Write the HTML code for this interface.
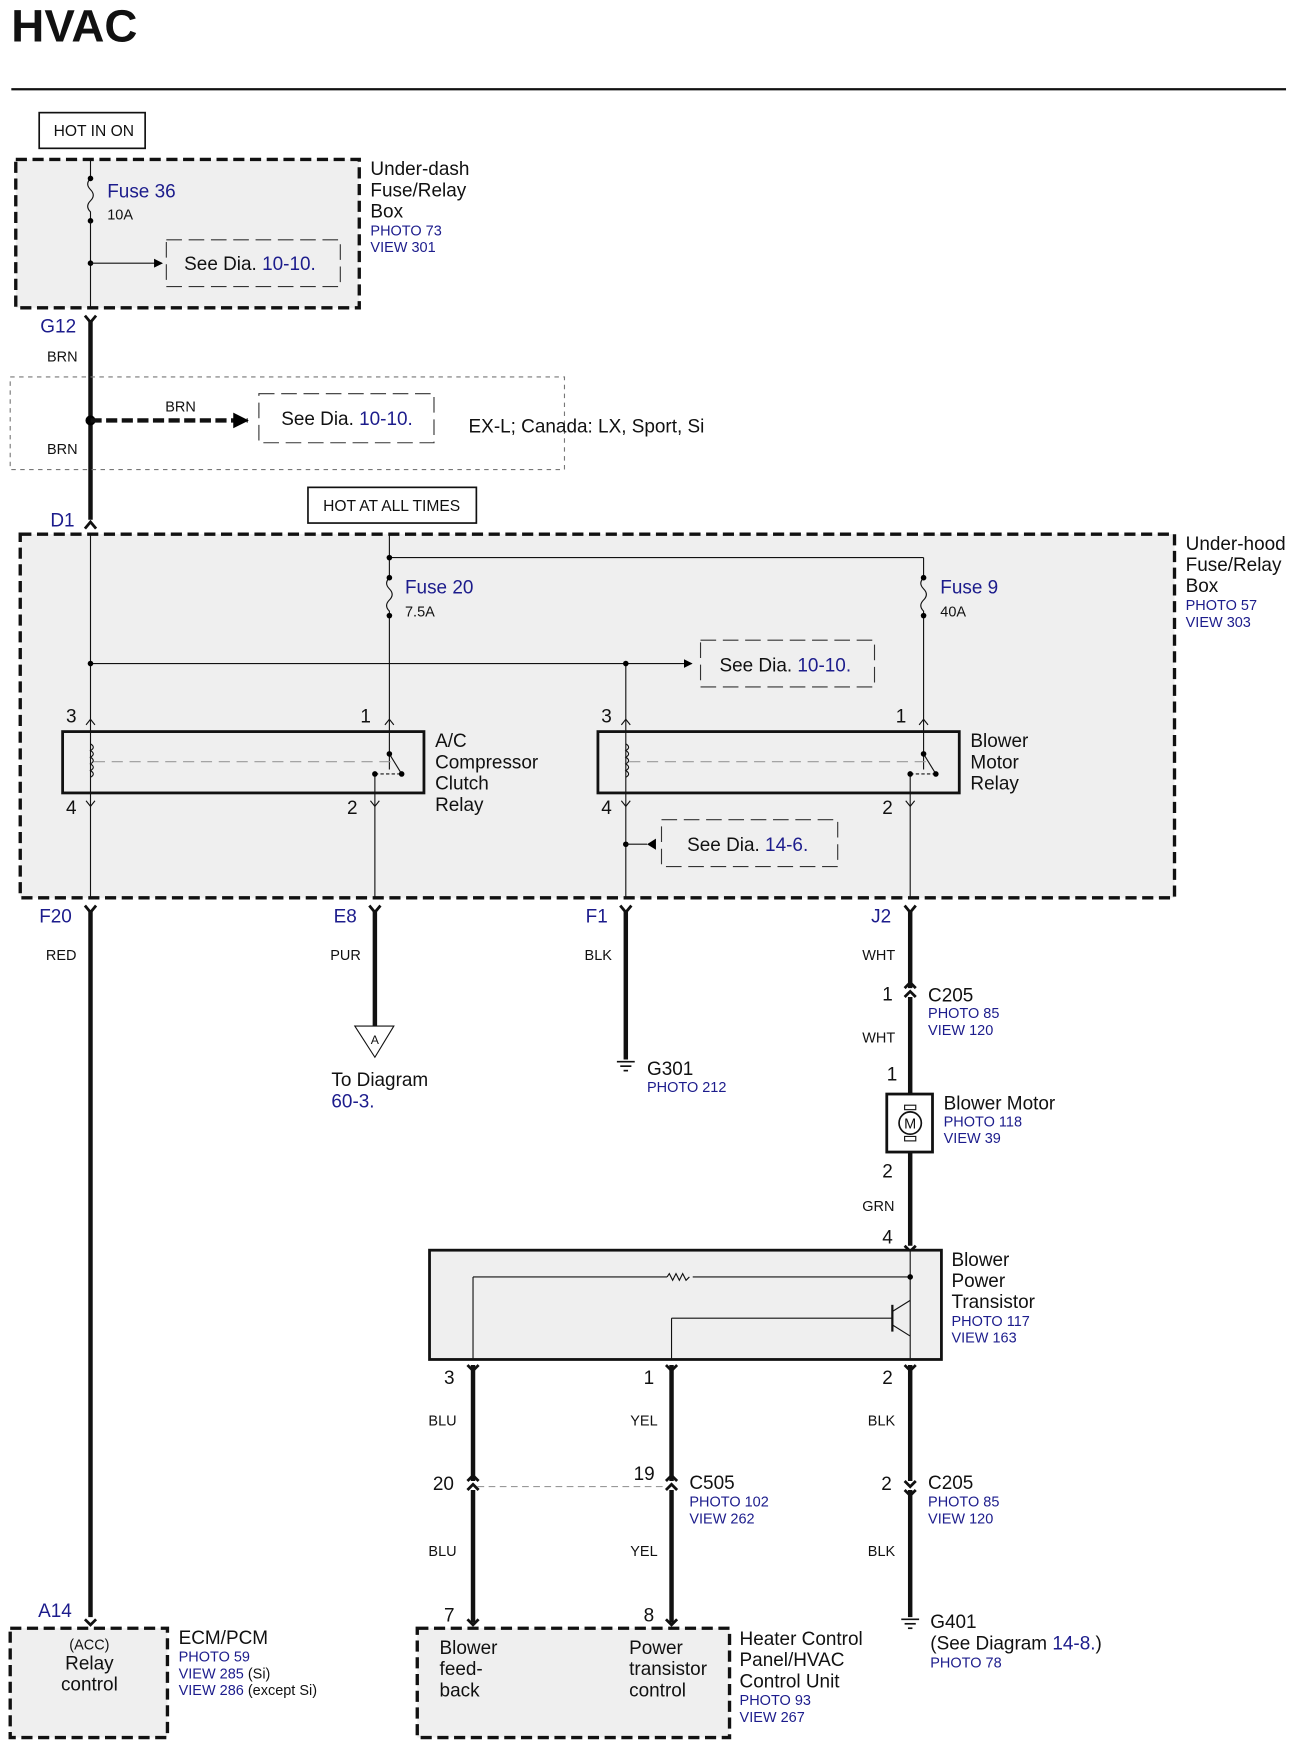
<!DOCTYPE html>
<html><head><meta charset="utf-8"><style>
html,body{margin:0;padding:0;background:#fff;}
svg{display:block;}
text{font-family:"Liberation Sans",Arial,sans-serif;fill:#111;}
.b{fill:#1c1c8c;}
.s13{font-size:13px;}
.s17{font-size:17px;}
.s14{font-size:14px;}
</style></head><body>
<svg width="1294" height="1742" viewBox="0 0 1160 1562" xmlns="http://www.w3.org/2000/svg">
<defs>
<marker id="ar" markerWidth="8" markerHeight="8" refX="7" refY="4" orient="auto" markerUnits="userSpaceOnUse"><path d="M0,0 L8,4 L0,8 z" fill="#000"/></marker>
<marker id="ar2" markerWidth="14" markerHeight="14" refX="13" refY="7" orient="auto" markerUnits="userSpaceOnUse"><path d="M0,0 L14,7 L0,14 z" fill="#000"/></marker>
</defs>
<text x="10" y="37" style="font-size:41px;font-weight:bold">HVAC</text>
<line x1="10" y1="80" x2="1153" y2="80" stroke="#111" stroke-width="2"/>

<rect x="35" y="101" width="95" height="32" fill="#fff" stroke="#111" stroke-width="1.5"/>
<text x="84" y="122" text-anchor="middle" class="s14">HOT IN ON</text>

<rect x="14" y="143" width="308" height="133" fill="#efefef" stroke="#111" stroke-width="3" stroke-dasharray="10,5"/>
<line x1="81" y1="143" x2="81" y2="160" stroke="#111"/>
<path d="M81,160 q-5,5 0,10 q5,5 0,10 q-5,5 0,10 l0,8" fill="none" stroke="#111"/>
<circle cx="81" cy="160" r="2.5"/><circle cx="81" cy="198" r="2.5"/>
<line x1="81" y1="198" x2="81" y2="276" stroke="#111"/>
<circle cx="81" cy="236" r="2.5"/>
<line x1="81" y1="236" x2="145" y2="236" stroke="#111" marker-end="url(#ar)"/>
<text x="96" y="177" class="s17 b">Fuse 36</text>
<text x="96" y="197" class="s13">10A</text>
<rect x="149" y="215" width="156" height="42" fill="none" stroke="#333" stroke-dasharray="14,6"/>
<text x="165" y="242" class="s17">See Dia. <tspan class="b">10-10.</tspan></text>
<text x="332" y="157" class="s17">Under-dash</text>
<text x="332" y="176" class="s17">Fuse/Relay</text>
<text x="332" y="195" class="s17">Box</text>
<text x="332" y="211" class="s13 b">PHOTO 73</text>
<text x="332" y="226" class="s13 b">VIEW 301</text>

<text x="36" y="298" class="s17 b">G12</text>
<path d="M76,283 l5,6 l5,-6" fill="none" stroke="#111" stroke-width="2.5"/>
<line x1="81" y1="287" x2="81" y2="466" stroke="#111" stroke-width="4"/>
<text x="42" y="324" class="s13">BRN</text>
<rect x="9" y="338" width="497" height="83" fill="none" stroke="#777" stroke-dasharray="4,4"/>
<circle cx="81" cy="377" r="4.5"/>
<line x1="81" y1="377" x2="222" y2="377" stroke="#111" stroke-width="4" stroke-dasharray="10,4" marker-end="url(#ar2)"/>
<text x="148" y="369" class="s13">BRN</text>
<rect x="232" y="353" width="157" height="44" fill="#fff" stroke="#333" stroke-dasharray="14,6"/>
<text x="252" y="381" class="s17">See Dia. <tspan class="b">10-10.</tspan></text>
<text x="420" y="388" class="s17">EX-L; Canada: LX, Sport, Si</text>
<text x="42" y="407" class="s13">BRN</text>
<text x="45" y="472" class="s17 b">D1</text>
<path d="M76,474 l5,-6 l5,6" fill="none" stroke="#111" stroke-width="2.5"/>

<rect x="276" y="437" width="151" height="32" fill="#fff" stroke="#111" stroke-width="1.5"/>
<text x="351" y="458" text-anchor="middle" class="s14">HOT AT ALL TIMES</text>

<rect x="18" y="479" width="1035" height="326" fill="#efefef" stroke="#111" stroke-width="3" stroke-dasharray="10,5"/>
<text x="1063" y="493" class="s17">Under-hood</text>
<text x="1063" y="512" class="s17">Fuse/Relay</text>
<text x="1063" y="531" class="s17">Box</text>
<text x="1063" y="547" class="s13 b">PHOTO 57</text>
<text x="1063" y="562" class="s13 b">VIEW 303</text>
<g stroke="#111" fill="none">
<line x1="81" y1="479" x2="81" y2="805"/>
<line x1="81" y1="595" x2="620" y2="595" marker-end="url(#ar)"/>
<line x1="561" y1="595" x2="561" y2="805"/>
<line x1="349" y1="479" x2="349" y2="518"/>
<line x1="349" y1="500" x2="828" y2="500"/>
<line x1="828" y1="500" x2="828" y2="518"/>
<path d="M349,518 q-5,5 0,10 q5,5 0,10 q-5,5 0,10 l0,4"/>
<path d="M828,518 q-5,5 0,10 q5,5 0,10 q-5,5 0,10 l0,4"/>
<line x1="349" y1="552" x2="349" y2="690"/>
<line x1="828" y1="552" x2="828" y2="690"/>
<line x1="336" y1="694" x2="336" y2="805"/>
<line x1="816" y1="694" x2="816" y2="805"/>
</g>
<circle cx="349" cy="500" r="2.5"/><circle cx="349" cy="518" r="2.5"/><circle cx="349" cy="552" r="2.5"/>
<circle cx="828" cy="518" r="2.5"/><circle cx="828" cy="552" r="2.5"/>
<circle cx="81" cy="595" r="2.5"/><circle cx="561" cy="595" r="2.5"/>
<text x="363" y="532" class="s17 b">Fuse 20</text>
<text x="363" y="553" class="s13">7.5A</text>
<text x="843" y="532" class="s17 b">Fuse 9</text>
<text x="843" y="553" class="s13">40A</text>
<rect x="628" y="574" width="156" height="42" fill="none" stroke="#333" stroke-dasharray="14,6"/>
<text x="645" y="602" class="s17">See Dia. <tspan class="b">10-10.</tspan></text>

<g stroke="#111" fill="none">
<rect x="56" y="656" width="324" height="55" stroke-width="2.5"/>
<rect x="536" y="656" width="324" height="55" stroke-width="2.5"/>
<path d="M81,667 q5,3 0,6 q5,3 0,6 q5,3 0,6 q5,3 0,6 q5,3 0,6"/>
<path d="M561,667 q5,3 0,6 q5,3 0,6 q5,3 0,6 q5,3 0,6 q5,3 0,6"/>
<line x1="84" y1="683" x2="355" y2="683" stroke="#999" stroke-dasharray="10,6"/>
<line x1="564" y1="683" x2="835" y2="683" stroke="#999" stroke-dasharray="10,6"/>
<line x1="349" y1="676" x2="360" y2="694"/>
<line x1="828" y1="676" x2="839" y2="694"/>
<line x1="336" y1="694" x2="360" y2="694" stroke-dasharray="3,2"/>
<line x1="816" y1="694" x2="839" y2="694" stroke-dasharray="3,2"/>
<path d="M77,650 l4,-5 l4,5 M77,718 l4,5 l4,-5 M345,650 l4,-5 l4,5 M332,718 l4,5 l4,-5"/>
<path d="M557,650 l4,-5 l4,5 M557,718 l4,5 l4,-5 M824,650 l4,-5 l4,5 M812,718 l4,5 l4,-5"/>
</g>
<circle cx="349" cy="676" r="2.5"/><circle cx="360" cy="694" r="2.5"/><circle cx="336" cy="694" r="2.5"/>
<circle cx="828" cy="676" r="2.5"/><circle cx="839" cy="694" r="2.5"/><circle cx="816" cy="694" r="2.5"/>
<text x="59" y="648" class="s17">3</text><text x="323" y="648" class="s17">1</text>
<text x="59" y="730" class="s17">4</text><text x="311" y="730" class="s17">2</text>
<text x="539" y="648" class="s17">3</text><text x="803" y="648" class="s17">1</text>
<text x="539" y="730" class="s17">4</text><text x="791" y="730" class="s17">2</text>
<text x="390" y="670" class="s17">A/C</text><text x="390" y="689" class="s17">Compressor</text>
<text x="390" y="708" class="s17">Clutch</text><text x="390" y="727" class="s17">Relay</text>
<text x="870" y="670" class="s17">Blower</text><text x="870" y="689" class="s17">Motor</text>
<text x="870" y="708" class="s17">Relay</text>
<circle cx="561" cy="757" r="2.5"/>
<line x1="561" y1="757" x2="580" y2="757" stroke="#111"/>
<path d="M588,752 l-8,5 l8,5 z"/>
<rect x="593" y="735" width="158" height="42" fill="none" stroke="#333" stroke-dasharray="14,6"/>
<text x="616" y="763" class="s17">See Dia. <tspan class="b">14-6.</tspan></text>

<g stroke="#111" stroke-width="2.5" fill="none">
<path d="M76,812 l5,6 l5,-6 M331,812 l5,6 l5,-6 M556,812 l5,6 l5,-6 M811,812 l5,6 l5,-6"/>
</g>
<g stroke="#111" stroke-width="4">
<line x1="81" y1="816" x2="81" y2="1450"/>
<line x1="336" y1="816" x2="336" y2="920"/>
<line x1="561" y1="816" x2="561" y2="950"/>
<line x1="816" y1="816" x2="816" y2="886"/>
<line x1="816" y1="894" x2="816" y2="981"/>
<line x1="816" y1="1033" x2="816" y2="1117"/>
<line x1="424" y1="1224" x2="424" y2="1328"/>
<line x1="424" y1="1336" x2="424" y2="1455"/>
<line x1="602" y1="1224" x2="602" y2="1328"/>
<line x1="602" y1="1336" x2="602" y2="1455"/>
<line x1="816" y1="1224" x2="816" y2="1328"/>
<line x1="816" y1="1336" x2="816" y2="1450"/>
</g>
<text x="35" y="827" class="s17 b">F20</text>
<text x="299" y="827" class="s17 b">E8</text>
<text x="525" y="827" class="s17 b">F1</text>
<text x="781" y="827" class="s17 b">J2</text>
<text x="41" y="861" class="s13">RED</text>
<text x="296" y="861" class="s13">PUR</text>
<text x="524" y="861" class="s13">BLK</text>
<text x="773" y="861" class="s13">WHT</text>
<path d="M318,920 L353,920 L336,948 z" fill="#fff" stroke="#111"/>
<text x="336" y="936" text-anchor="middle" style="font-size:11px">A</text>
<text x="297" y="974" class="s17">To Diagram</text>
<text x="297" y="993" class="s17 b">60-3.</text>
<g stroke="#111" stroke-width="1.5">
<line x1="553" y1="952" x2="569" y2="952"/><line x1="556" y1="956" x2="566" y2="956"/><line x1="559" y1="960" x2="563" y2="960"/>
<line x1="808" y1="1452" x2="824" y2="1452"/><line x1="811" y1="1456" x2="821" y2="1456"/><line x1="814" y1="1460" x2="818" y2="1460"/>
</g>
<text x="580" y="964" class="s17">G301</text>
<text x="580" y="979" class="s13 b">PHOTO 212</text>
<g stroke="#111" stroke-width="2.5" fill="none">
<path d="M811,886 l5,-5 l5,5 M811,894 l5,-5 l5,5"/>
<path d="M419,1328 l5,-5 l5,5 M419,1336 l5,-5 l5,5"/>
<path d="M597,1328 l5,-5 l5,5 M597,1336 l5,-5 l5,5"/>
<path d="M811,1328 l5,5 l5,-5 M811,1336 l5,5 l5,-5"/>
<path d="M811,1117 l5,5 l5,-5"/>
<path d="M419,1224 l5,5 l5,-5 M597,1224 l5,5 l5,-5 M811,1224 l5,5 l5,-5"/>
<path d="M76,1452 l5,5 l5,-5"/>
<path d="M419,1452 l5,5 l5,-5 M597,1452 l5,5 l5,-5"/>
</g>
<text x="791" y="897" class="s17">1</text>
<text x="832" y="898" class="s17">C205</text>
<text x="832" y="913" class="s13 b">PHOTO 85</text>
<text x="832" y="928" class="s13 b">VIEW 120</text>
<text x="773" y="935" class="s13">WHT</text>
<text x="795" y="969" class="s17">1</text>
<rect x="795" y="981" width="41" height="52" fill="#fff" stroke="#111" stroke-width="2.5"/>
<circle cx="816" cy="1007" r="10" fill="#fff" stroke="#111" stroke-width="1.5"/>
<rect x="811" y="991" width="10" height="4" fill="#fff" stroke="#111"/>
<rect x="811" y="1019" width="10" height="4" fill="#fff" stroke="#111"/>
<text x="816" y="1012" text-anchor="middle" style="font-size:13px">M</text>
<text x="846" y="995" class="s17">Blower Motor</text>
<text x="846" y="1010" class="s13 b">PHOTO 118</text>
<text x="846" y="1025" class="s13 b">VIEW 39</text>
<text x="791" y="1056" class="s17">2</text>
<text x="773" y="1086" class="s13">GRN</text>
<text x="791" y="1115" class="s17">4</text>

<rect x="385" y="1121" width="459" height="98" fill="#efefef" stroke="#111" stroke-width="2.5"/>
<g stroke="#111" fill="none">
<line x1="816" y1="1121" x2="816" y2="1219"/>
<line x1="424" y1="1145" x2="598" y2="1145"/>
<path d="M598,1145 l2,-3 l3,6 l3,-6 l3,6 l3,-6 l3,6 l3,-3"/>
<line x1="621" y1="1145" x2="816" y2="1145"/>
<line x1="424" y1="1145" x2="424" y2="1219"/>
<line x1="602" y1="1182" x2="800" y2="1182"/>
<line x1="602" y1="1182" x2="602" y2="1219"/>
<line x1="800" y1="1170" x2="800" y2="1194" stroke-width="2"/>
<line x1="800" y1="1176" x2="816" y2="1166"/>
<line x1="800" y1="1188" x2="816" y2="1198"/>
</g>
<circle cx="816" cy="1145" r="2.5"/>
<text x="853" y="1135" class="s17">Blower</text>
<text x="853" y="1154" class="s17">Power</text>
<text x="853" y="1173" class="s17">Transistor</text>
<text x="853" y="1189" class="s13 b">PHOTO 117</text>
<text x="853" y="1204" class="s13 b">VIEW 163</text>
<text x="398" y="1241" class="s17">3</text>
<text x="577" y="1241" class="s17">1</text>
<text x="791" y="1241" class="s17">2</text>
<text x="384" y="1278" class="s13">BLU</text>
<text x="565" y="1278" class="s13">YEL</text>
<text x="778" y="1278" class="s13">BLK</text>
<line x1="428" y1="1333" x2="598" y2="1333" stroke="#999" stroke-dasharray="6,4"/>
<text x="388" y="1336" class="s17">20</text>
<text x="568" y="1327" class="s17">19</text>
<text x="618" y="1335" class="s17">C505</text>
<text x="618" y="1351" class="s13 b">PHOTO 102</text>
<text x="618" y="1366" class="s13 b">VIEW 262</text>
<text x="790" y="1336" class="s17">2</text>
<text x="832" y="1335" class="s17">C205</text>
<text x="832" y="1351" class="s13 b">PHOTO 85</text>
<text x="832" y="1366" class="s13 b">VIEW 120</text>
<text x="384" y="1395" class="s13">BLU</text>
<text x="565" y="1395" class="s13">YEL</text>
<text x="778" y="1395" class="s13">BLK</text>
<text x="398" y="1454" class="s17">7</text>
<text x="577" y="1454" class="s17">8</text>
<text x="834" y="1460" class="s17">G401</text>
<text x="834" y="1479" class="s17">(See Diagram <tspan class="b">14-8.</tspan>)</text>
<text x="834" y="1495" class="s13 b">PHOTO 78</text>

<text x="34" y="1450" class="s17 b">A14</text>
<rect x="9" y="1460" width="141" height="98" fill="#efefef" stroke="#111" stroke-width="3" stroke-dasharray="10,5"/>
<text x="80" y="1479" text-anchor="middle" class="s13">(ACC)</text>
<text x="80" y="1497" text-anchor="middle" class="s17">Relay</text>
<text x="80" y="1516" text-anchor="middle" class="s17">control</text>
<text x="160" y="1474" class="s17">ECM/PCM</text>
<text x="160" y="1490" class="s13 b">PHOTO 59</text>
<text x="160" y="1505" class="s13 b">VIEW 285 <tspan fill="#111">(Si)</tspan></text>
<text x="160" y="1520" class="s13 b">VIEW 286 <tspan fill="#111">(except Si)</tspan></text>

<rect x="374" y="1460" width="280" height="98" fill="#efefef" stroke="#111" stroke-width="3" stroke-dasharray="10,5"/>
<text x="394" y="1483" class="s17">Blower</text>
<text x="394" y="1502" class="s17">feed-</text>
<text x="394" y="1521" class="s17">back</text>
<text x="564" y="1483" class="s17">Power</text>
<text x="564" y="1502" class="s17">transistor</text>
<text x="564" y="1521" class="s17">control</text>
<text x="663" y="1475" class="s17">Heater Control</text>
<text x="663" y="1494" class="s17">Panel/HVAC</text>
<text x="663" y="1513" class="s17">Control Unit</text>
<text x="663" y="1529" class="s13 b">PHOTO 93</text>
<text x="663" y="1544" class="s13 b">VIEW 267</text>
</svg>
</body></html>
